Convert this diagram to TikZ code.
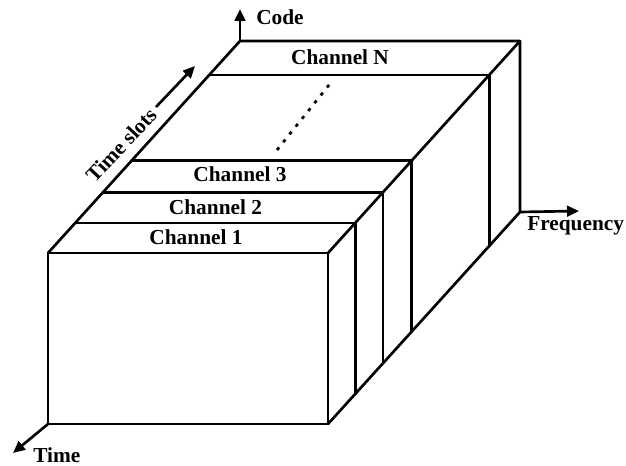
\documentclass[tikz,border=0pt]{standalone}
\usepackage{fontspec}
\setmainfont{Liberation Serif}
\usetikzlibrary{arrows.meta}
\begin{document}
\begin{tikzpicture}[x=0.75pt,y=-0.75pt,
  edge/.style={line width=2pt, line cap=round, line join=round},
  axisarrow/.style={line width=2pt, -{Triangle[length=9pt,width=8pt]}},
  dotline/.style={line width=2pt, dash pattern=on 2.5pt off 5pt},
  lbl/.style={font=\fontsize{16}{19}\selectfont\bfseries, inner sep=0pt},
]
\useasboundingbox (0,0) rectangle (626,466);
% box corners
\coordinate (FTL) at (48,253);
\coordinate (FTR) at (328,253);
\coordinate (FBR) at (328,424);
\coordinate (FBL) at (48,424);
\coordinate (BTL) at (240,41);
\coordinate (BTR) at (520,41);
\coordinate (BBR) at (520,212);
% slab boundaries
\coordinate (S1L) at (75.3,222.9);
\coordinate (S1R) at (355.3,222.9);
\coordinate (S1B) at (355.3,393.9);
\coordinate (S2L) at (103.1,192.2);
\coordinate (S2R) at (383.1,192.2);
\coordinate (S2B) at (383.1,363.2);
\coordinate (S3L) at (131.5,160.8);
\coordinate (S3R) at (411.5,160.8);
\coordinate (S3B) at (411.5,331.8);
\coordinate (SNL) at (209.3,74.9);
\coordinate (SNR) at (489.3,74.9);
\coordinate (SNB) at (489.3,245.9);
% box
\draw[edge] (FTL) rectangle (FBR);
\draw[edge] (FTL) -- (BTL) -- (BTR) -- (BBR) -- (FBR);
\draw[edge] (FTR) -- (BTR);
\draw[edge] (S1L) -- (S1R) -- (S1B);
\draw[edge] (S2L) -- (S2R) -- (S2B);
\draw[edge] (S3L) -- (S3R) -- (S3B);
\draw[edge] (SNL) -- (SNR) -- (SNB);
% dotted continuation
\coordinate (dA) at (277,150);
\coordinate (dB) at (333,80);
\draw[dotline] (dA) -- (dB);
% axes
\coordinate (codeTip) at (240,9);
\coordinate (freqTip) at (579,211);
\coordinate (timeTip) at (13,453);
\coordinate (tsA) at (156,107);
\coordinate (tsB) at (195,66);
\draw[axisarrow] (BTL) -- (codeTip);
\draw[axisarrow] (BBR) -- (freqTip);
\draw[axisarrow] (FBL) -- (timeTip);
\draw[axisarrow] (tsA) -- (tsB);
% labels
\node[lbl, anchor=base west] (code) at (256,25) {Code};
\node[lbl, anchor=base west] (freq) at (527,231) {Frequency};
\node[lbl, anchor=base west] (time) at (33,463) {Time};
\node[lbl, anchor=east, rotate=47] (ts) at (153,111) {Time slots};
\node[lbl, anchor=base] (chN) at (340,65) {Channel N};
\node[lbl, anchor=base] (ch3) at (240,182) {Channel 3};
\node[lbl, anchor=base] (ch2) at (215.5,215) {Channel 2};
\node[lbl, anchor=base] (ch1) at (196,245) {Channel 1};
\end{tikzpicture}
\end{document}
